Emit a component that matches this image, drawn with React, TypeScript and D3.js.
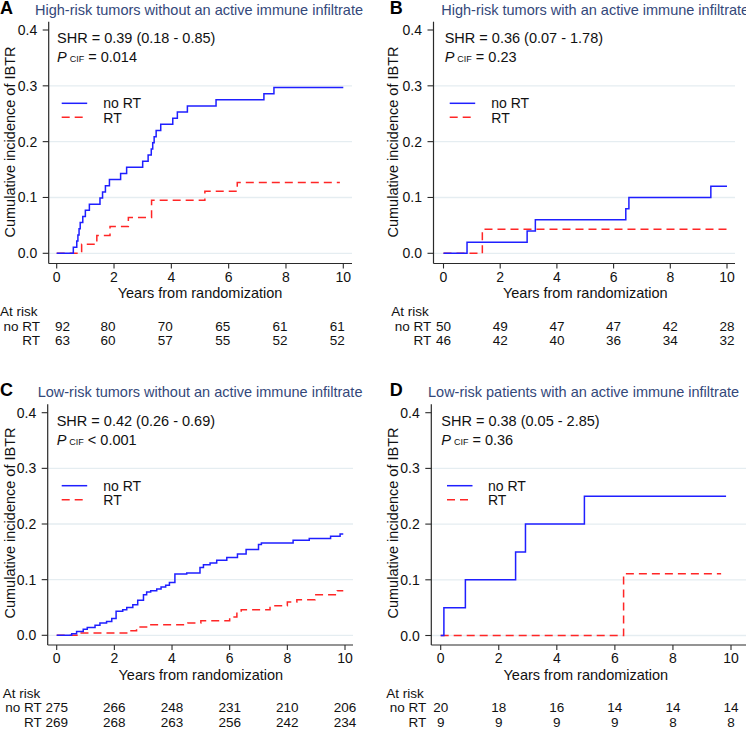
import React from "react";
import * as d3 from "d3";

type Pt = [number, number];

const xTickValues = [0, 2, 4, 6, 8, 10];
const yTickValues = [0, 0.1, 0.2, 0.3, 0.4];
const gridValues = [0, 0.1, 0.2, 0.3];
const groupNames = ["no RT", "RT"];

const panelLetters = ["A", "B", "C", "D"];
const panelTitles = [
  "High-risk tumors without an active immune infiltrate",
  "High-risk tumors with an active immune infiltrate",
  "Low-risk tumors without an active immune infiltrate",
  "Low-risk patients with an active immune infiltrate",
];
const shrLabels = [
  "SHR = 0.39 (0.18 - 0.85)",
  "SHR = 0.36 (0.07 - 1.78)",
  "SHR = 0.42 (0.26 - 0.69)",
  "SHR = 0.38 (0.05 - 2.85)",
];
const pLabels = ["= 0.014", "= 0.23", "< 0.001", "= 0.36"];

const atRiskNoRT_A = [92, 80, 70, 65, 61, 61];
const atRiskRT_A = [63, 60, 57, 55, 52, 52];
const atRiskNoRT_B = [50, 49, 47, 47, 42, 28];
const atRiskRT_B = [46, 42, 40, 36, 34, 32];
const atRiskNoRT_C = [275, 266, 248, 231, 210, 206];
const atRiskRT_C = [269, 268, 263, 256, 242, 234];
const atRiskNoRT_D = [20, 18, 16, 14, 14, 14];
const atRiskRT_D = [9, 9, 9, 9, 8, 8];

// [years, cumulative incidence]
const noRT_A: Pt[] = [
  [0, 0], [0.58, 0.011], [0.7, 0.022], [0.74, 0.033], [0.78, 0.044], [0.82, 0.055],
  [0.91, 0.066], [1.0, 0.077], [1.14, 0.088], [1.51, 0.099], [1.6, 0.11], [1.7, 0.121],
  [1.84, 0.132], [2.23, 0.143], [2.44, 0.154], [3.0, 0.165], [3.19, 0.176], [3.3, 0.187],
  [3.35, 0.198], [3.4, 0.209], [3.47, 0.22], [3.63, 0.231], [4.05, 0.242], [4.21, 0.253],
  [4.56, 0.264], [5.56, 0.275], [7.23, 0.286], [7.58, 0.297], [10, 0.297],
];
const rt_A: Pt[] = [
  [0, 0], [0.87, 0.016], [1.4, 0.032], [1.86, 0.048], [2.5, 0.064], [3.31, 0.095],
  [5.17, 0.111], [6.3, 0.127], [9.88, 0.127],
];
const noRT_B: Pt[] = [
  [0, 0], [0.83, 0.02], [2.95, 0.04], [3.24, 0.06], [6.43, 0.08], [6.54, 0.1],
  [9.43, 0.12], [10, 0.12],
];
const rt_B: Pt[] = [[0, 0], [1.37, 0.043], [10, 0.043]];
const noRT_C: Pt[] = [
  [0, 0], [0.52, 0.003], [0.69, 0.007], [0.92, 0.011], [1.06, 0.014], [1.33, 0.018],
  [1.5, 0.022], [1.73, 0.025], [1.91, 0.03], [2.06, 0.043], [2.29, 0.046], [2.43, 0.05],
  [2.64, 0.055], [2.81, 0.063], [3.01, 0.073], [3.12, 0.078], [3.26, 0.08], [3.47, 0.083],
  [3.62, 0.087], [3.78, 0.09], [3.91, 0.095], [4.1, 0.11], [4.51, 0.112], [4.97, 0.122],
  [5.09, 0.127], [5.32, 0.13], [5.55, 0.135], [5.9, 0.14], [6.27, 0.146], [6.57, 0.154],
  [7.0, 0.163], [7.1, 0.166], [8.2, 0.171], [8.76, 0.174], [9.5, 0.178], [9.83, 0.182],
  [9.94, 0.182],
];
const rt_C: Pt[] = [
  [0, 0], [0.81, 0.004], [2.49, 0.008], [2.77, 0.015], [3.15, 0.019], [4.55, 0.022],
  [5.0, 0.026], [6.0, 0.033], [6.25, 0.041], [6.4, 0.046], [7.4, 0.053], [8.0, 0.06],
  [8.33, 0.064], [8.96, 0.073], [9.73, 0.08], [9.94, 0.08],
];
const noRT_D: Pt[] = [
  [0, 0], [0.11, 0.05], [0.85, 0.1], [2.58, 0.15], [2.92, 0.2], [4.95, 0.25], [9.83, 0.25],
];
const rt_D: Pt[] = [[0, 0], [6.3, 0.111], [9.66, 0.111]];

const curvesNoRT = [noRT_A, noRT_B, noRT_C, noRT_D];
const curvesRT = [rt_A, rt_B, rt_C, rt_D];
const riskNoRT = [atRiskNoRT_A, atRiskNoRT_B, atRiskNoRT_C, atRiskNoRT_D];
const riskRT = [atRiskRT_A, atRiskRT_B, atRiskRT_C, atRiskRT_D];

const layouts = [
  { axisX: 48.7, x0: 56.7, x10: 343.3, yZero: 253.3, yTop: 30, axisY: 263.5, axisTop: 21.7, right: 352,
    letterX: 0, titleX: 35, titleY: 14.5, textX: 57, shrY: 42.7, pY: 61.7, legX: 61.7, legTextX: 103.3, legY: 103.3,
    ylabX: 14.5, ylabY: 142, riskLabelRight: 40, atRiskX: 0, riskShift: -6, firstStart: true },
  { axisX: 433.5, x0: 443.5, x10: 727, yZero: 253.3, yTop: 30, axisY: 263.5, axisTop: 21.7, right: 735,
    letterX: 389.7, titleX: 441.3, titleY: 14.5, textX: 444.7, shrY: 42.7, pY: 61.7, legX: 449.7, legTextX: 491.3, legY: 103.3,
    ylabX: 397.5, ylabY: 142, riskLabelRight: 431.3, atRiskX: 391.3, riskShift: 0, firstStart: false },
  { axisX: 47.7, x0: 56.7, x10: 345, yZero: 635.3, yTop: 412.7, axisY: 645, axisTop: 404.3, right: 353,
    letterX: 0, titleX: 37.7, titleY: 396.7, textX: 56.7, shrY: 426, pY: 445, legX: 61.7, legTextX: 103.3, legY: 485.7,
    ylabX: 14.5, ylabY: 523, riskLabelRight: 41.7, atRiskX: 2.7, riskShift: 0, firstStart: false },
  { axisX: 431.3, x0: 440.7, x10: 731, yZero: 635.5, yTop: 412.7, axisY: 645, axisTop: 404.3, right: 746,
    letterX: 389.7, titleX: 428, titleY: 396.7, textX: 441.3, shrY: 426, pY: 445, legX: 447, legTextX: 488, legY: 485.7,
    ylabX: 397.5, ylabY: 523, riskLabelRight: 426.3, atRiskX: 386.3, riskShift: 0, firstStart: false },
];

const FONT = "'Liberation Sans', Arial, Helvetica, sans-serif";
const BLUE = "#1f1fff";
const RED = "#ff2626";
const AXIS = "#2a2a2a";
const GRID = "#e5edf1";
const TITLE = "#34487a";

function Panel({ i }: { i: number }) {
  const L = layouts[i];
  const x = d3.scaleLinear().domain([0, 10]).range([L.x0, L.x10]);
  const y = d3.scaleLinear().domain([0, 0.4]).range([L.yZero, L.yTop]);
  const line = d3
    .line<Pt>()
    .x((d) => x(d[0]))
    .y((d) => y(d[1]))
    .curve(d3.curveStepAfter);
  const tickLabY = L.axisY + 18.2;
  const xlabY = L.axisY + 34.7;
  const atRiskY = L.axisY + 52.7;
  const row1Y = L.axisY + 67.3;
  const row2Y = L.axisY + 81.7;
  return (
    <g>
      {gridValues.map((v) => (
        <line key={"g" + v} x1={L.axisX} x2={L.right} y1={y(v)} y2={y(v)} stroke={GRID} strokeWidth={1.3} />
      ))}
      <line x1={L.axisX} x2={L.axisX} y1={L.axisTop} y2={L.axisY} stroke={AXIS} strokeWidth={1.2} />
      <line x1={L.axisX} x2={L.right} y1={L.axisY} y2={L.axisY} stroke={AXIS} strokeWidth={1.2} />
      {yTickValues.map((v) => (
        <g key={"yt" + v}>
          <line x1={L.axisX - 6} x2={L.axisX} y1={y(v)} y2={y(v)} stroke={AXIS} strokeWidth={1.1} />
          <text x={L.axisX - 11.5} y={y(v) + 5} textAnchor="end" fontSize={14} fill="#111">
            {d3.format(".1f")(v)}
          </text>
        </g>
      ))}
      {xTickValues.map((v) => (
        <g key={"xt" + v}>
          <line x1={x(v)} x2={x(v)} y1={L.axisY} y2={L.axisY + 5} stroke={AXIS} strokeWidth={1.1} />
          <text x={x(v)} y={tickLabY} textAnchor="middle" fontSize={14} fill="#111">
            {v}
          </text>
        </g>
      ))}
      <text x={(L.x0 + L.x10) / 2} y={xlabY} textAnchor="middle" fontSize={14.5} fill="#111">
        Years from randomization
      </text>
      <text
        transform={`translate(${L.ylabX},${L.ylabY}) rotate(-90)`}
        textAnchor="middle"
        fontSize={14.5}
        fill="#111"
      >
        Cumulative incidence of IBTR
      </text>
      <text x={L.letterX} y={L.titleY - 0.5} fontSize={18} fontWeight="bold" fill="#000">
        {panelLetters[i]}
      </text>
      <text x={L.titleX} y={L.titleY} fontSize={14.5} fill={TITLE}>
        {panelTitles[i]}
      </text>
      <text x={L.textX} y={L.shrY} fontSize={14.5} fill="#111">
        {shrLabels[i]}
      </text>
      <text x={L.textX} y={L.pY} fontSize={14.5} fill="#111">
        <tspan fontStyle="italic">P</tspan>
        <tspan fontSize={9} dx={3}>CIF</tspan>
        <tspan dx={4}>{pLabels[i]}</tspan>
      </text>
      <line x1={L.legX} x2={L.legX + 25.5} y1={L.legY} y2={L.legY} stroke={BLUE} strokeWidth={1.5} />
      <line x1={L.legX} x2={L.legX + 25.5} y1={L.legY + 14} y2={L.legY + 14} stroke={RED} strokeWidth={1.5} strokeDasharray="8,5" />
      <text x={L.legTextX} y={L.legY + 5} fontSize={14} fill="#111">{groupNames[0]}</text>
      <text x={L.legTextX} y={L.legY + 19.7} fontSize={14} fill="#111">{groupNames[1]}</text>
      <path d={line(curvesRT[i]) || ""} fill="none" stroke={RED} strokeWidth={1.5} strokeDasharray="8,5" />
      <path d={line(curvesNoRT[i]) || ""} fill="none" stroke={BLUE} strokeWidth={1.5} />
      <text x={L.atRiskX} y={atRiskY} fontSize={13.5} fill="#111">At risk</text>
      <text x={L.riskLabelRight} y={row1Y} textAnchor="end" fontSize={13.5} fill="#111">{groupNames[0]}</text>
      <text x={L.riskLabelRight} y={row2Y} textAnchor="end" fontSize={13.5} fill="#111">{groupNames[1]}</text>
      {xTickValues.map((v, j) => {
        const first = L.firstStart && j === 0;
        const px = first ? x(v) - 1.7 : x(v) + L.riskShift;
        return (
          <g key={"r" + v}>
            <text x={px} y={row1Y} textAnchor={first ? "start" : "middle"} fontSize={13.5} fill="#111">
              {riskNoRT[i][j]}
            </text>
            <text x={px} y={row2Y} textAnchor={first ? "start" : "middle"} fontSize={13.5} fill="#111">
              {riskRT[i][j]}
            </text>
          </g>
        );
      })}
    </g>
  );
}

export default function App() {
  return (
    <svg
      width={746}
      height={731}
      style={{ position: "absolute", left: 0, top: 0, background: "#fff" }}
      fontFamily={FONT}
    >
      <rect width={746} height={731} fill="#fff" />
      {[0, 1, 2, 3].map((i) => (
        <Panel key={i} i={i} />
      ))}
    </svg>
  );
}
